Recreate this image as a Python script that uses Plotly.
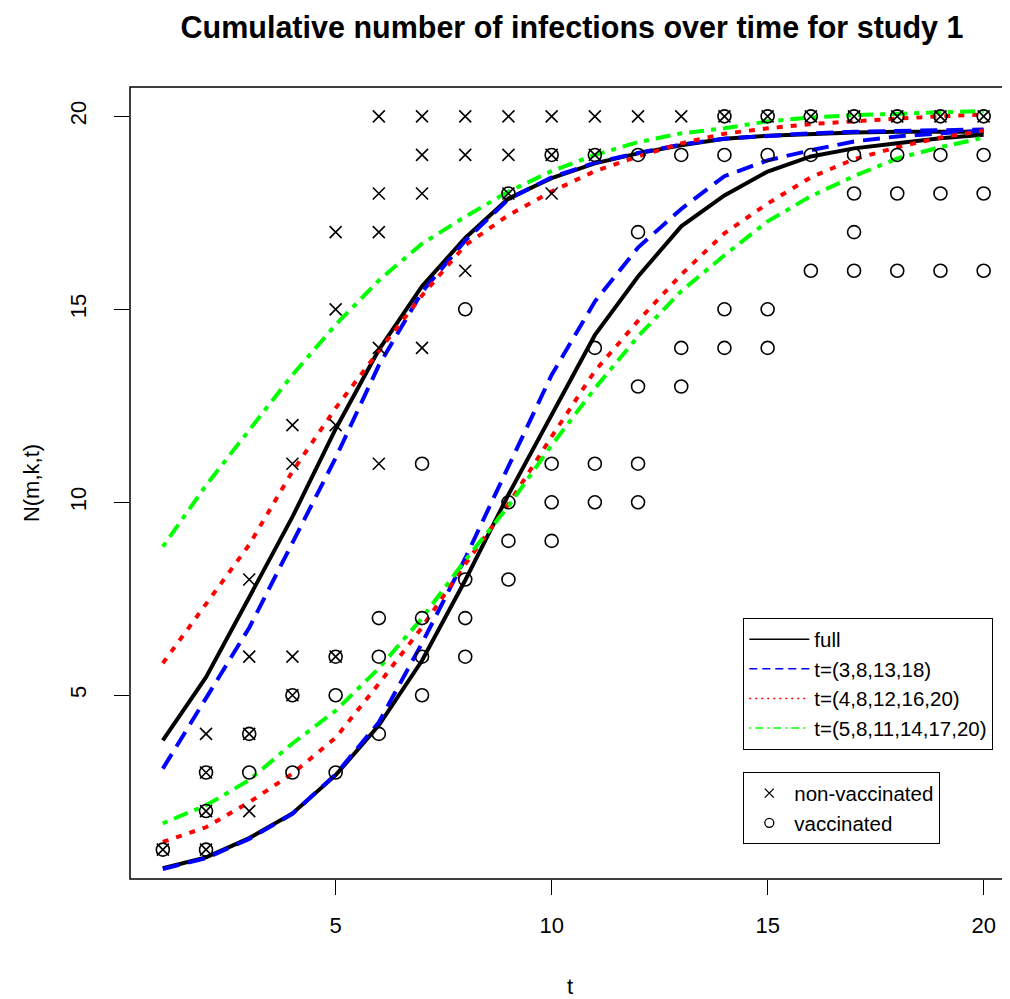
import plotly.graph_objects as go

# ---------------- data ----------------
t = list(range(1, 21))

# observed points (non-vaccinated: x, vaccinated: o)
nv_t = [1, 2, 2, 2, 2, 3, 3, 3, 3, 4, 4, 4, 4, 5, 5, 5, 5,
        6, 6, 6, 6, 6, 7, 7, 7, 7, 8, 8, 8, 9, 9, 9, 10, 10, 10,
        11, 11, 12, 13, 14, 15, 16, 17, 18, 19, 20]
nv_y = [1, 4, 3, 2, 1, 8, 6, 4, 2, 12, 11, 6, 5, 17, 15, 12, 6,
        20, 18, 17, 14, 11, 20, 19, 18, 14, 20, 19, 16, 20, 19, 18, 20, 19, 18,
        20, 19, 20, 20, 20, 20, 20, 20, 20, 20, 20]

v_t = [1, 2, 2, 2, 3, 3, 4, 4, 5, 5, 5, 6, 6, 6, 7, 7, 7, 7, 8, 8, 8, 8,
       9, 9, 9, 9, 10, 10, 10, 10, 11, 11, 11, 11, 12, 12, 12, 12, 12,
       13, 13, 13, 14, 14, 14, 14, 15, 15, 15, 15, 16, 16, 16,
       17, 17, 17, 17, 17, 18, 18, 18, 18, 19, 19, 19, 19, 20, 20, 20, 20]
v_y = [1, 3, 2, 1, 4, 3, 5, 3, 6, 5, 3, 7, 6, 4, 11, 7, 6, 5, 15, 8, 7, 6,
       18, 10, 9, 8, 19, 11, 10, 9, 19, 14, 11, 10, 19, 17, 13, 11, 10,
       19, 14, 13, 20, 19, 15, 14, 20, 19, 15, 14, 20, 19, 16,
       20, 19, 18, 17, 16, 20, 19, 18, 16, 20, 19, 18, 16, 20, 19, 18, 16]

# fitted curves, non-vaccinated
full_nv  = [3.83, 5.47, 7.54, 9.62, 11.9, 13.95, 15.6, 16.85, 17.87, 18.4,
            18.78, 19.04, 19.25, 19.42, 19.5, 19.55, 19.58, 19.6, 19.6, 19.6]
blue_nv  = [3.1, 4.95, 6.75, 8.95, 11.15, 13.55, 15.45, 16.78, 17.85, 18.42,
            18.8, 19.05, 19.27, 19.42, 19.5, 19.56, 19.6, 19.62, 19.64, 19.66]
red_nv   = [5.83, 7.35, 8.9, 10.8, 12.44, 13.92, 15.36, 16.66, 17.44, 18.05,
            18.58, 18.96, 19.3, 19.55, 19.69, 19.8, 19.88, 19.94, 20.0, 20.05]
green_nv = [8.85, 10.44, 11.87, 13.3, 14.6, 15.75, 16.7, 17.4, 18.05, 18.58,
            19.0, 19.33, 19.56, 19.69, 19.87, 19.97, 20.03, 20.07, 20.1, 20.14]

# fitted curves, vaccinated
full_v  = [0.52, 0.8, 1.3, 1.94, 2.93, 4.22, 5.9, 7.98, 10.2, 12.28,
           14.33, 15.85, 17.15, 17.95, 18.57, 18.96, 19.17, 19.3, 19.43, 19.52]
blue_v  = [0.5, 0.78, 1.28, 1.93, 2.95, 4.3, 6.35, 8.55, 10.93, 13.3,
           15.2, 16.6, 17.6, 18.45, 18.86, 19.12, 19.35, 19.48, 19.56, 19.63]
red_v   = [1.2, 1.58, 2.23, 2.97, 3.9, 5.3, 6.76, 8.4, 9.95, 11.7,
           13.4, 14.7, 15.9, 16.97, 17.74, 18.42, 18.89, 19.2, 19.45, 19.63]
green_v = [1.68, 2.15, 2.8, 3.75, 4.6, 5.7, 7.0, 8.5, 9.9, 11.48,
           12.95, 14.3, 15.47, 16.4, 17.28, 17.93, 18.45, 18.91, 19.2, 19.45]

curve_names = ["full", "t=(3,8,13,18)", "t=(4,8,12,16,20)", "t=(5,8,11,14,17,20)"]
curve_colors = ["black", "#0000ff", "#ff0000", "#00ff00"]
curve_dash = ["solid", "17px,9px", "6px,8px", "5px,7px,15px,7px"]
legend_dash = ["solid", "8px,5px", "2px,4px", "2px,4px,8px,4px"]

FONT = "Liberation Sans, Arial, Helvetica, sans-serif"

# the page body adds an 8px offset; the figure is sized/placed to compensate
W, H = 1002, 991

fig = go.Figure()

series_nv = [full_nv, blue_nv, red_nv, green_nv]
series_v = [full_v, blue_v, red_v, green_v]
for i in range(4):
    for ys in (series_nv[i], series_v[i]):
        fig.add_trace(go.Scatter(
            x=t, y=ys, mode="lines", showlegend=False,
            line=dict(color=curve_colors[i], width=4, dash=curve_dash[i]),
            hoverinfo="skip"))

# points
fig.add_trace(go.Scatter(
    x=nv_t, y=nv_y, mode="markers", showlegend=False,
    marker=dict(symbol="x-thin-open", size=12, color="black",
                line=dict(color="black", width=1.6))))
fig.add_trace(go.Scatter(
    x=v_t, y=v_y, mode="markers", showlegend=False,
    marker=dict(symbol="circle-open", size=13, color="black",
                line=dict(color="black", width=1.6))))

# legend entries (thin lines as in the reference legend)
for i in range(4):
    fig.add_trace(go.Scatter(
        x=[None], y=[None], mode="lines", name=curve_names[i],
        line=dict(color=curve_colors[i], width=1.5, dash=legend_dash[i]),
        legend="legend"))
fig.add_trace(go.Scatter(
    x=[None], y=[None], mode="markers", name="non-vaccinated",
    marker=dict(symbol="x-thin-open", size=9, color="black",
                line=dict(color="black", width=1.3)),
    legend="legend2"))
fig.add_trace(go.Scatter(
    x=[None], y=[None], mode="markers", name="vaccinated",
    marker=dict(symbol="circle-open", size=9, color="black",
                line=dict(color="black", width=1.3)),
    legend="legend2"))

# plot frame (right side falls outside the picture, as in the reference)
fig.add_shape(type="rect", xref="paper", yref="paper", x0=0, x1=1.05, y0=0, y1=1,
              line=dict(color="black", width=1.5), layer="above")

fig.update_layout(
    width=W, height=H,
    margin=dict(l=122, r=0, t=79, b=120),
    paper_bgcolor="white", plot_bgcolor="white",
    font=dict(family=FONT, color="black", size=21),
    title=dict(text="<b>Cumulative number of infections over time for study 1</b>",
               x=564 / W, xanchor="center", y=1 - 19 / H, yanchor="middle",
               font=dict(family=FONT, size=30.5, color="black")),
    xaxis=dict(range=[0.24, 20.61], tickmode="array", tickvals=[5, 10, 15, 20],
               ticktext=["5", "10", "15", "20"],
               ticks="outside", ticklen=15, tickwidth=1.3, tickcolor="black",
               showgrid=False, zeroline=False, showline=False,
               tickfont=dict(size=22), ticklabelstandoff=12,
               title=dict(text="t", font=dict(size=22), standoff=43)),
    yaxis=dict(range=[0.24, 20.76], tickmode="array", tickvals=[5, 10, 15, 20],
               ticktext=["5", "10", "15", "20"], tickangle=-90,
               ticks="outside", ticklen=15, tickwidth=1.3, tickcolor="black",
               showgrid=False, zeroline=False, showline=False,
               tickfont=dict(size=22), ticklabelstandoff=19,
               title=dict(text="N(m,k,t)", font=dict(size=22), standoff=20)),
    legend=dict(x=(743 - 130) / 880, y=(879 - 618) / 792, xanchor="left", yanchor="top",
                bordercolor="black", borderwidth=1.3, bgcolor="white",
                font=dict(size=20.5), tracegroupgap=0, itemwidth=60),
    legend2=dict(x=(743 - 130) / 880, y=(879 - 772) / 792, xanchor="left", yanchor="top",
                 bordercolor="black", borderwidth=1.3, bgcolor="white",
                 font=dict(size=20.5), tracegroupgap=0, itemwidth=40),
    showlegend=True,
)

fig.write_html("out.html")
